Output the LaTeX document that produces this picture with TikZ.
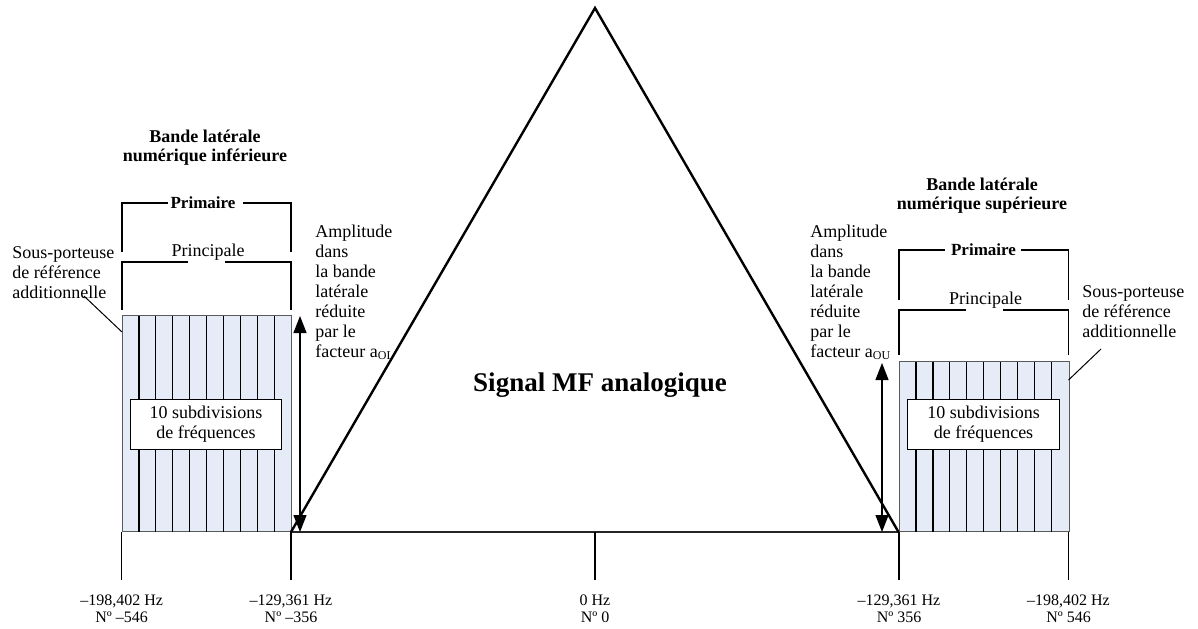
\documentclass[tikz,border=0pt]{standalone}
\usepackage{fontspec}
\setmainfont{Liberation Serif}
\usetikzlibrary{arrows.meta}
\definecolor{bandfill}{RGB}{230,236,247}
\definecolor{bandedge}{RGB}{90,90,90}
\begin{document}
\begin{tikzpicture}[x=0.5pt,y=-0.5pt,
  txt/.style={font=\fontsize{9}{10}\selectfont, inner sep=0pt, align=left},
  ctxt/.style={font=\fontsize{9}{10}\selectfont, inner sep=0pt, align=center},
  head/.style={font=\bfseries\fontsize{9}{9.5}\selectfont, inner sep=0pt, align=center},
  brlabel/.style={font=\bfseries\fontsize{8.5}{9}\selectfont, inner sep=0pt},
  axlabel/.style={font=\fontsize{8}{8.5}\selectfont, inner sep=0pt, align=center},
  bandbox/.style={draw=bandedge, fill=bandfill, line width=0.4pt, inner sep=0pt, anchor=south west},
  subbox/.style={draw=black, fill=white, line width=0.5pt, inner sep=0pt, align=center, font=\fontsize{9}{10}\selectfont},
  divider/.style={black, line width=0.6pt},
  bracket/.style={black, line width=0.8pt},
  tick/.style={black, line width=0.7pt},
  tri/.style={black, line width=1.2pt, line join=miter},
  baseln/.style={black!85, line width=1pt},
  amp/.style={black, line width=0.6pt, {Triangle[length=8.5pt,width=6.5pt]}-{Triangle[length=8.5pt,width=6.5pt]}},
  leader/.style={black, line width=0.5pt}
]
\useasboundingbox (0,0) rectangle (1198,628);

% band boxes
\node[bandbox, minimum width=84.5pt, minimum height=108pt] (lbox) at (122,532) {};
\node[bandbox, minimum width=84.75pt, minimum height=85pt] (rbox) at (899,532) {};
\foreach \i in {1,...,9} {
  \draw[divider] ({122+16.9*\i},316) -- ({122+16.9*\i},532);
  \draw[divider] ({899+16.95*\i},362) -- ({899+16.95*\i},532);
}
\node[subbox, minimum width=75.85pt, minimum height=25pt] (lsub) at (206,424) {10 subdivisions\\de fréquences};
\node[subbox, minimum width=75.8pt, minimum height=25pt] (rsub) at (983.5,424) {10 subdivisions\\de fréquences};

% triangle
\coordinate (apex) at (595,8);
\coordinate (lfoot) at (291,532);
\coordinate (rfoot) at (898.5,532);
\draw[baseln] (lfoot) -- (rfoot);
\draw[tri] (lfoot) -- (apex) -- (rfoot);
\node[font=\bfseries\fontsize{13.5}{15}\selectfont, inner sep=0pt] (sig) at (600,385) {Signal MF analogique};

% ticks and axis labels
\foreach \x/\n/\a/\b in {121.7/t1/{–198,402 Hz}/{Nº –546}, 291/t2/{–129,361 Hz}/{Nº –356}, 595/t3/{0 Hz}/{Nº 0}, 899/t4/{–129,361 Hz}/{Nº 356}, 1068.5/t5/{–198,402 Hz}/{Nº 546}} {
  \coordinate (\n top) at (\x,532);
  \coordinate (\n bot) at (\x,580);
  \draw[tick] (\n top) -- (\n bot);
  \node[axlabel] (\n lab) at (\x,608.5) {\a\\\b};
}

% amplitude arrows
\coordinate (la1) at (300,532);
\coordinate (la2) at (300,316);
\draw[amp] (la1) -- (la2);
\coordinate (ra1) at (882,532);
\coordinate (ra2) at (882,363);
\draw[amp] (ra1) -- (ra2);
\node[txt, anchor=west] (lamp) at (315,292) {Amplitude\\dans\\la bande\\latérale\\réduite\\par le\\facteur a\textsubscript{OL}};
\node[txt, anchor=west] (ramp) at (810,292) {Amplitude\\dans\\la bande\\latérale\\réduite\\par le\\facteur a\textsubscript{OU}};

% headings
\node[head] (lhead) at (205,147.5) {Bande latérale\\numérique inférieure};
\node[head] (rhead) at (982,196) {Bande latérale\\numérique supérieure};

% left brackets
\draw[bracket] (122,252) -- (122,203) -- (168,203);
\draw[bracket] (243,203) -- (291,203) -- (291,252);
\node[brlabel] (lprim) at (203,203) {Primaire};
\draw[bracket] (122,310) -- (122,262) -- (188,262);
\draw[bracket] (225,262) -- (291,262) -- (291,310);
\node[ctxt] (lprinc) at (208,252) {Principale};

% right brackets
\draw[bracket] (899,300) -- (899,250) -- (945,250);
\draw[bracket] (1021,250) -- (1068.5,250) -- (1068.5,300);
\node[brlabel] (rprim) at (983.5,250) {Primaire};
\draw[bracket] (899,355) -- (899,310) -- (966,310);
\draw[bracket] (1003,310) -- (1068.5,310) -- (1068.5,355);
\node[ctxt] (rprinc) at (985.5,300) {Principale};

% reference subcarrier labels
\node[txt, anchor=west] (lsp) at (12,273) {Sous-porteuse\\de référence\\additionnelle};
\node[txt, anchor=west] (rsp) at (1082,312) {Sous-porteuse\\de référence\\additionnelle};
\coordinate (lsp end) at (84,296);
\coordinate (lbox pt) at (122,332);
\draw[leader] (lsp end) -- (lbox pt);
\coordinate (rsp end) at (1101,349);
\coordinate (rbox pt) at (1068.5,380);
\draw[leader] (rsp end) -- (rbox pt);
\end{tikzpicture}
\end{document}
